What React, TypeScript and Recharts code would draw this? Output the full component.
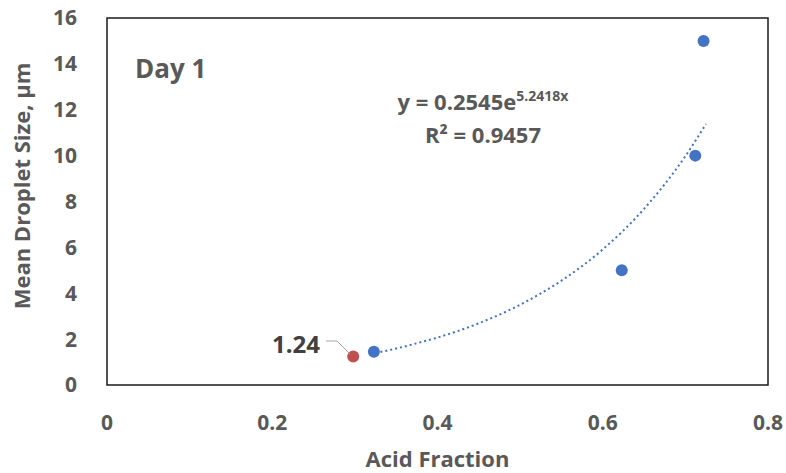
import React from 'react';
import {
  ComposedChart, Scatter, Line, XAxis, YAxis, ReferenceArea, Label,
} from 'recharts';

// measured points (blue) and the highlighted point (red)
const acidFraction = [0.323, 0.623, 0.712, 0.722];
const dropletSize = [1.45, 5.0, 10.0, 15.0];
const highlightX = [0.298];
const highlightY = [1.24];

// exponential trendline
const trendX = [0.325, 0.35, 0.375, 0.4, 0.45, 0.5, 0.55, 0.6, 0.65, 0.7, 0.725];
const trendY = [1.4, 1.59, 1.82, 2.07, 2.69, 3.5, 4.55, 5.91, 7.68, 9.98, 11.38];

const xTicks = [0, 0.2, 0.4, 0.6, 0.8];
const yTicks = [0, 2, 4, 6, 8, 10, 12, 14, 16];

const points = acidFraction.map((x, i) => ({ x, y: dropletSize[i] }));
const highlight = highlightX.map((x, i) => ({ x, y: highlightY[i] }));
const trend = trendX.map((x, i) => ({ x, y: trendY[i] }));

const FONT = '"Open Sans", "Noto Sans", sans-serif';
const GREY = '#595959';

const Dot = (color: string) => (props: any) => (
  <circle cx={props.cx} cy={props.cy} r={6} fill={color} />
);

const fmtX = (v: number) => (v === 0 ? '0' : String(v));

export default function App() {
  return (
    <div style={{ position: 'absolute', left: 0, top: 0, width: 786, height: 473, background: '#fff', fontFamily: FONT }}>
      <ComposedChart
        width={786}
        height={473}
        margin={{ top: 18, right: 18, bottom: 0, left: 0 }}
      >
        <XAxis
          type="number"
          dataKey="x"
          domain={[0, 0.8]}
          ticks={xTicks}
          tickFormatter={fmtX}
          height={88}
          axisLine={false}
          tickLine={false}
          tickMargin={24}
          tick={{ fill: GREY, fontSize: 21, fontWeight: 700, fontFamily: FONT }}
          allowDataOverflow
        >
          <Label
            value="Acid Fraction"
            position="insideBottom"
            offset={6}
            style={{ fill: GREY, fontSize: 22, fontWeight: 700, fontFamily: FONT }}
          />
        </XAxis>
        <YAxis
          type="number"
          dataKey="y"
          domain={[0, 16]}
          ticks={yTicks}
          width={107}
          axisLine={false}
          tickLine={false}
          tickMargin={24}
          tick={{ fill: GREY, fontSize: 21, fontWeight: 700, fontFamily: FONT }}
          allowDataOverflow
        />
        <ReferenceArea
          x1={0}
          x2={0.8}
          y1={0}
          y2={16}
          fill="#fff"
          fillOpacity={0}
          stroke="#1a1a1a"
          strokeWidth={1.5}
          ifOverflow="visible"
        />
        <Line
          data={trend}
          dataKey="y"
          type="monotone"
          stroke="#4472C4"
          strokeWidth={2}
          strokeDasharray="2 3"
          dot={false}
          activeDot={false}
          isAnimationActive={false}
        />
        <Scatter data={points} fill="#4472C4" shape={Dot('#4472C4')} isAnimationActive={false} />
        <Scatter data={highlight} fill="#C0504D" shape={Dot('#C0504D')} isAnimationActive={false} />
      </ComposedChart>

      <svg width={786} height={473} style={{ position: 'absolute', left: 0, top: 0, pointerEvents: 'none' }}>
        <text
          x={0}
          y={0}
          transform="translate(30,186) rotate(-90)"
          textAnchor="middle"
          fill={GREY}
          fontSize={22}
          fontWeight={700}
          fontFamily={FONT}
        >
          Mean Droplet Size, µm
        </text>
        <text x={135} y={78} fill={GREY} fontSize={26} fontWeight={700} fontFamily={FONT}>Day 1</text>
        <text x={483} y={110} textAnchor="middle" fill={GREY} fontSize={22} fontWeight={700} fontFamily={FONT}>
          y = 0.2545e<tspan fontSize={14} dy={-9}>5.2418x</tspan>
        </text>
        <text x={483} y={143} textAnchor="middle" fill={GREY} fontSize={22} fontWeight={700} fontFamily={FONT}>
          R² = 0.9457
        </text>
        <polyline points="326,341 337,341 350,354" fill="none" stroke="#a6a6a6" strokeWidth={1} />
        <text x={296} y={353} textAnchor="middle" fill="#404040" fontSize={24} fontWeight={700} fontFamily={FONT}>1.24</text>
      </svg>
    </div>
  );
}
